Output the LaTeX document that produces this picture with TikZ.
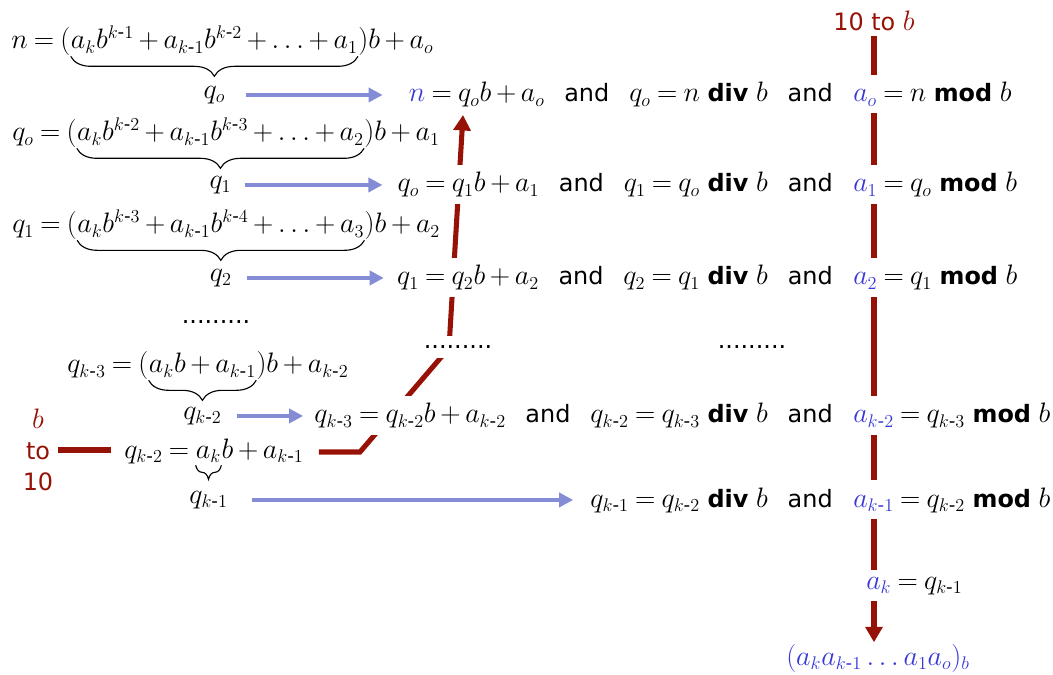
\RequirePackage{fix-cm}
\documentclass[tikz,border=0pt]{standalone}
\usepackage{amsmath}
\usepackage[no-math]{fontspec}
\setmainfont{DejaVu Sans}
\usetikzlibrary{arrows.meta,positioning,decorations.pathreplacing,backgrounds}
\definecolor{darkred}{RGB}{150,18,6}
\definecolor{arrowblue}{RGB}{133,140,214}
\definecolor{varblue}{RGB}{56,56,214}
\DeclareMathSizes{17}{20}{13}{10}
\medmuskip=3mu plus 1mu minus 1mu
\thickmuskip=4mu plus 1mu
\newlength{\px}\setlength{\px}{0.025cm}
\newcommand{\km}[1]{k\text{-}#1}
\newcommand{\blu}[1]{\textcolor{varblue}{$#1$}}
\newcommand{\dd}{{\ldotp\ldotp\ldotp}}

\begin{document}
\begin{tikzpicture}[x=0.025cm,y=-0.025cm,font=\fontsize{17}{22}\selectfont,
  eq/.style={inner sep=0pt},
  row/.style={fill=white,inner xsep=0pt,inner ysep=7\px},
  brc/.style={decorate,decoration={brace,mirror,amplitude=0.5cm,raise=2pt},line width=0.8pt},
  bluearr/.style={-{Triangle[length=10pt,width=10pt]},line width=3.5pt,arrowblue},
  redln/.style={line width=3.6pt,darkred},
  redarr/.style={redln,-{Triangle[length=11pt,width=12pt]}}]
  \useasboundingbox (0,0) rectangle (1053,675);
  % left: splitting the quotient off
  \node[eq,anchor=base west](n0a) at (11,49){$n = ($};
  \node[eq,anchor=base west](n0b) at (n0a.base east){$a_kb^{\km{1}} + a_{\km{1}}b^{\km{2}} + \dd + a_1$};
  \node[eq,anchor=base west](n0c) at (n0b.base east){$)b + a_o$};
  \node[eq,anchor=base west](n1a) at (12,141){$q_o = ($};
  \node[eq,anchor=base west](n1b) at (n1a.base east){$a_kb^{\km{2}} + a_{\km{1}}b^{\km{3}} + \dd + a_2$};
  \node[eq,anchor=base west](n1c) at (n1b.base east){$)b + a_1$};
  \node[eq,anchor=base west](n2a) at (12,233){$q_1 = ($};
  \node[eq,anchor=base west](n2b) at (n2a.base east){$a_kb^{\km{3}} + a_{\km{1}}b^{\km{4}} + \dd + a_3$};
  \node[eq,anchor=base west](n2c) at (n2b.base east){$)b + a_2$};
  \node(dl) at (216,322){.........};
  \node[eq,anchor=base west](n3a) at (67,373){$q_{\km{3}} = ($};
  \node[eq,anchor=base west](n3b) at (n3a.base east){$a_kb + a_{\km{1}}$};
  \node[eq,anchor=base west](n3c) at (n3b.base east){$)b + a_{\km{2}}$};
  \node[eq,anchor=base west](n4a) at (124,458){$q_{\km{2}} = {}$};
  \node[eq,anchor=base west](n4b) at (n4a.base east){$a_k$};
  \node[eq,anchor=base west](n4c) at (n4b.base east){$b + a_{\km{1}}$};
  \draw[brc](n0b.south west)--(n0b.south east);\draw[brc](n1b.south west)--(n1b.south east);
  \draw[brc](n2b.south west)--(n2b.south east);\draw[brc](n3b.south west)--(n3b.south east);
  \draw[brc,decoration={amplitude=0.35cm}](n4b.south west)--(n4b.south east);
  \node[align=center,text=darkred](b2t) at (38,450){$b$\\to\\10};
  % right: the rows
  \node[row,anchor=base east](r1m) at (833,102){and\hspace{20\px}$q_o = n$ \textbf{div} $b$\hspace{20\px}and};
  \node[row,anchor=base east](r1e) at ([xshift=-19\px]r1m.base west){\blu{n}${} = q_ob + a_o$};
  \node[row,anchor=base west](r1a) at (853,102){\blu{a_o}${} = n$ \textbf{mod} $b$};
  \node[row,anchor=base east](r2m) at (833,192){and\hspace{20\px}$q_1 = q_o$ \textbf{div} $b$\hspace{20\px}and};
  \node[row,anchor=base east](r2e) at ([xshift=-19\px]r2m.base west){$q_o = q_1b + a_1$};
  \node[row,anchor=base west](r2a) at (853,192){\blu{a_1}${} = q_o$ \textbf{mod} $b$};
  \node[row,anchor=base east](r3m) at (833,285){and\hspace{20\px}$q_2 = q_1$ \textbf{div} $b$\hspace{20\px}and};
  \node[row,anchor=base east](r3e) at ([xshift=-19\px]r3m.base west){$q_1 = q_2b + a_2$};
  \node[row,anchor=base west](r3a) at (853,285){\blu{a_2}${} = q_1$ \textbf{mod} $b$};
  \node[row,minimum height=22\px](dm) at (458,347){.........};
  \node(dr) at (752,347){.........};
  \node[row,anchor=base east](r4m) at (833,423){and\hspace{20\px}$q_{\km{2}} = q_{\km{3}}$ \textbf{div} $b$\hspace{20\px}and};
  \node[row,anchor=base east](r4e) at ([xshift=-19\px]r4m.base west){$q_{\km{3}} = q_{\km{2}}b + a_{\km{2}}$};
  \node[row,anchor=base west](r4a) at (853,423){\blu{a_{\km{2}}}${} = q_{\km{3}}$ \textbf{mod} $b$};
  \node[row,anchor=base east](r5m) at (833,507){$q_{\km{1}} = q_{\km{2}}$ \textbf{div} $b$\hspace{20\px}and};
  \node[row,anchor=base west](r5a) at (853,507){\blu{a_{\km{1}}}${} = q_{\km{2}}$ \textbf{mod} $b$};
  \node[row,anchor=base west](ak) at (866,589){\blu{a_k}${} = q_{\km{1}}$};
  \node[inner sep=1pt,anchor=base](res) at (878,665){\blu{(a_ka_{\km{1}}\,\dd\,a_1a_o)_b}};
  \node[text=darkred,anchor=base](tenb) at (874,31){10 to $b$};
  % quotients and blue arrows
  \node[eq](q0) at (n0b.south |- r1m){$q_o$};
  \node[eq](q1) at (n1b.south |- r2m){$q_1$};
  \node[eq](q2) at (n2b.south |- r3m){$q_2$};
  \node[eq](q3) at (n3b.south |- r4m){$q_{\km{2}}$};
  \node[eq](q4) at (n4b.south |- r5m){$q_{\km{1}}$};
  \draw[bluearr,shorten <=21\px,shorten >=26\px](q0.east)--(q0.east -| r1e.west);
  \draw[bluearr,shorten <=13\px,shorten >=15\px](q1.east)--(q1.east -| r2e.west);
  \draw[bluearr,shorten <=15\px,shorten >=13\px](q2.east)--(q2.east -| r3e.west);
  \draw[bluearr,shorten <=15\px,shorten >=11\px](q3.east)--(q3.east -| r4e.west);
  \draw[bluearr,shorten <=24\px,shorten >=17\px](q4.east)--(q4.east -| r5m.west);
  % red paths
  \coordinate(crn) at (360,452);\coordinate(bnd) at (449,348);\coordinate(tip) at (463,115);
  \begin{scope}[on background layer]
    \draw[redln,shorten >=13\px](b2t.east)--(b2t.east -| n4a.west);
    \draw[redarr,shorten <=15\px](n4c.east |- crn)--(crn)--(bnd)--(tip);
    \draw[redarr](tenb.south)--(tenb.south |- res.north);
  \end{scope}
\end{tikzpicture}
\end{document}
